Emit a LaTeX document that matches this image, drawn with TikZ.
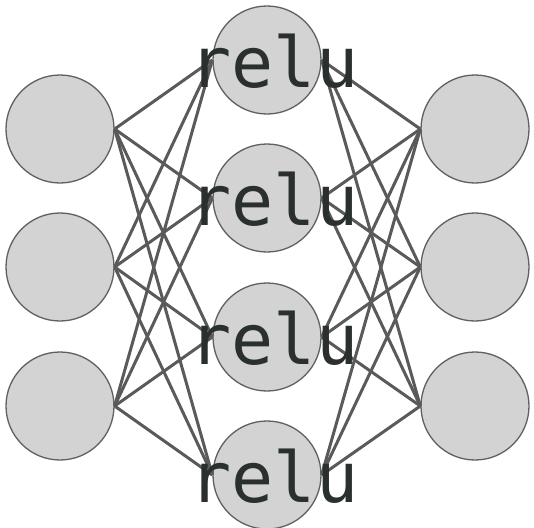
\documentclass[tikz,border=0pt]{standalone}
\usepackage{fontspec}
\newfontfamily\relumono{DejaVu Sans Mono}
\definecolor{nodefill}{HTML}{D3D3D3}
\definecolor{nodeline}{HTML}{606060}
\definecolor{edgeline}{HTML}{5A5A5A}
\definecolor{labeltext}{HTML}{2A2F2F}

\begin{document}
\begin{tikzpicture}[
    x=1pt, y=-1pt,
    neuron/.style={circle, draw=nodeline, fill=nodefill, line width=1.3pt, minimum size=108pt, inner sep=0pt},
    act/.style={text=labeltext, inner sep=0pt, xshift=7pt, yshift=-1pt, font=\relumono\fontsize{70}{84}\selectfont},
    link/.style={draw=edgeline, line width=3pt}
]
\useasboundingbox[fill=white] (0,0) rectangle (534,527);

% input layer
\node[neuron] (in1) at (60,129) {};
\node[neuron] (in2) at (60,267) {};
\node[neuron] (in3) at (60,406) {};

% hidden layer
\node[neuron] (hid1) at (267,60) {};
\node[neuron] (hid2) at (267,198) {};
\node[neuron] (hid3) at (267,337) {};
\node[neuron] (hid4) at (267,475) {};

% output layer
\node[neuron] (out1) at (475,129) {};
\node[neuron] (out2) at (475,267) {};
\node[neuron] (out3) at (475,406) {};

\foreach \i in {1,2,3} {
    \foreach \h in {1,2,3,4} {
        \draw[link] (in\i.east) -- (hid\h.west);
        \draw[link] (hid\h.east) -- (out\i.west);
    }
}

% activation labels
\node[act] (relu1) at (hid1) {relu};
\node[act] (relu2) at (hid2) {relu};
\node[act] (relu3) at (hid3) {relu};
\node[act] (relu4) at (hid4) {relu};
\end{tikzpicture}
\end{document}
